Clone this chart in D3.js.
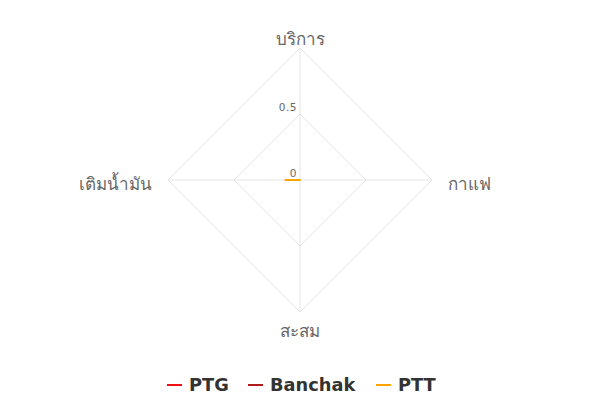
<!DOCTYPE html>
<html><head><meta charset="utf-8">
<script src="https://cdn.jsdelivr.net/npm/d3@7"></script>
<style>body{margin:0;background:#fff}</style>
</head><body>
<svg id="c" width="600" height="400"></svg>
<script>
const axes = ["บริการ", "กาแฟ", "สะสม", "เติมน้ำมัน"];
const seriesNames = ["PTG", "Banchak", "PTT"];
const seriesColors = ["#ee1111", "#b31b1b", "#ffa500"];
const PTG = [0, 0, 0, 0];
const Banchak = [0, 0, 0, 0];
const PTT = [0, 0, 0, 0.11];
const tickValues = [0, 0.5];
const gridLevels = [0.5, 1];
const maxValue = 1;

const svg = d3.select("#c");
const cx = 300, cy = 180, R = 132;
const r = d3.scaleLinear().domain([0, maxValue]).range([0, R]);
const angle = (i) => -Math.PI / 2 + i * 2 * Math.PI / axes.length;
const pt = (i, v) => [cx + r(v) * Math.cos(angle(i)), cy + r(v) * Math.sin(angle(i))];

const g = svg.append("g");
gridLevels.forEach(l => {
  g.append("polygon")
    .attr("points", axes.map((a, i) => pt(i, l).join(",")).join(" "))
    .attr("fill", "none").attr("stroke", "#e6e6e6").attr("stroke-width", 1);
});
axes.forEach((a, i) => {
  const p = pt(i, maxValue);
  g.append("line").attr("x1", cx).attr("y1", cy).attr("x2", p[0]).attr("y2", p[1])
    .attr("stroke", "#e6e6e6").attr("stroke-width", 1);
});
tickValues.forEach(t => {
  g.append("text").attr("x", cx - 3).attr("y", cy - r(t) - 3)
    .attr("text-anchor", "end").attr("font-family", "DejaVu Sans, sans-serif")
    .attr("font-size", 10.5).attr("letter-spacing", 0.5).attr("fill", "#666").text(t);
});
axes.forEach((a, i) => {
  const an = angle(i);
  const c = Math.cos(an), s = Math.sin(an);
  let x = cx + (R + 16) * c;
  let y = cy + (R + 16) * s;
  let anchor = "middle", dy = "0.35em";
  if (c > 0.1) anchor = "start";
  else if (c < -0.1) anchor = "end";
  if (s < -0.5) { y = cy - R - 3; dy = "0em"; }
  else if (s > 0.5) { y = cy + R + 12; dy = "0.75em"; }
  else { y = cy + 4; }
  g.append("text").attr("x", x).attr("y", y).attr("dy", dy)
    .attr("text-anchor", anchor).attr("font-family", "Noto Sans, DejaVu Sans, sans-serif")
    .attr("font-size", 17).attr("fill", "#666").text(a);
});
const data = [PTG, Banchak, PTT];
const line = d3.lineRadial().angle((d, i) => angle(i) + Math.PI / 2).radius(d => r(d)).curve(d3.curveLinearClosed);
data.forEach((s, k) => {
  g.append("path").attr("transform", `translate(${cx},${cy})`)
    .attr("d", line(s)).attr("fill", "none").attr("stroke", seriesColors[k]).attr("stroke-width", 2)
    .attr("stroke-linejoin", "round");
});
const legendX = [167, 248, 376];
const lg = svg.append("g");
seriesNames.forEach((n, k) => {
  lg.append("line").attr("x1", legendX[k]).attr("x2", legendX[k] + 15).attr("y1", 385).attr("y2", 385)
    .attr("stroke", seriesColors[k]).attr("stroke-width", 2);
  lg.append("text").attr("x", legendX[k] + 22).attr("y", 385).attr("dy", "0.35em")
    .attr("font-family", "DejaVu Sans, sans-serif").attr("font-weight", "bold")
    .attr("font-size", 17.8).attr("fill", "#333").text(n);
});
</script>
</body></html>
